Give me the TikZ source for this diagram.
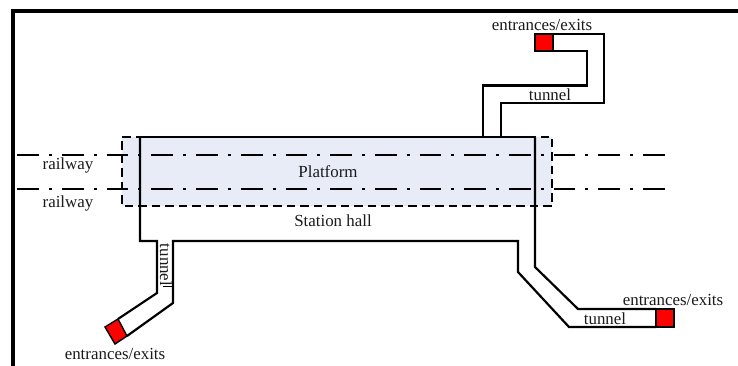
\documentclass[tikz,border=0pt]{standalone}
\usepackage{fontspec}
\setmainfont{Liberation Serif}
\definecolor{zoneblue}{HTML}{E7ECF7}
\definecolor{exitred}{HTML}{FF0000}
\definecolor{inkgrey}{HTML}{1A1A1A}
\tikzset{
  frameline/.style={line width=4.6pt,black},
  wall/.style={line width=2.2pt,black,line join=miter},
  zone/.style={fill=zoneblue,draw=none},
  zoneedge/.style={line width=1.2pt,black,dash pattern=on 8.5pt off 5pt},
  rail/.style={line width=2.5pt,black,dash pattern=on 21.7pt off 10pt on 3pt off 10pt},
  exitbox/.style={fill=exitred,draw=black,line width=1.4pt,line join=miter},
  label/.style={font=\fontsize{16.9}{18}\selectfont,text=inkgrey,inner sep=0pt},
}
\begin{document}
\begin{tikzpicture}[x=1pt,y=-1pt]
\useasboundingbox (0,0) rectangle (738,366);
% underlay zone
\fill[zone] (122,137) rectangle (552,206);
\draw[zoneedge] (122,137) -- (552,137) -- (552,206) -- (122,206) -- cycle;
% railways
\coordinate (r1a) at (17.3,155); \coordinate (r1b) at (665,155);
\coordinate (r2a) at (17.3,189); \coordinate (r2b) at (665,189);
\draw[rail] (r1a) -- (r1b);
\draw[rail] (r2a) -- (r2b);
% frame
\draw[frameline] (13,366) -- (13,11) -- (738,11);
% station outline
\draw[wall] (140,137) -- (535,137);
\draw[wall] (535,137) -- (535,267) -- (578,309) -- (656,309);
\draw[wall] (140,137) -- (140,241) -- (157,241) -- (157,293) -- (118,319);
\draw[wall] (127,336) -- (173,303) -- (173,241) -- (518,241) -- (518,272) -- (569,327) -- (656,327);
% upper tunnel
\draw[wall] (483,137) -- (483,85.5) -- (587,85.5) -- (587,51) -- (553,51);
\draw[wall] (501,137) -- (501,103) -- (604,103) -- (604,34) -- (553,34);
% exits
\draw[exitbox] (535,34) rectangle (553,51);
\draw[exitbox] (656,309) rectangle (674,327);
\draw[exitbox] (105,327) -- (118,319) -- (127,336) -- (115,344) -- cycle;
% thin tick under rotated label
\draw[line width=0.5pt] (163,286.5) -- (173,286.5);
% labels
\node[label] (lr1) at (68,165) {railway};
\node[label] (lr2) at (68,203) {railway};
\node[label] (lp) at (328,172) {Platform};
\node[label] (ls) at (333,221) {Station hall};
\node[label] (le1) at (542,25) {entrances/exits};
\node[label] (le2) at (673,300) {entrances/exits};
\node[label] (le3) at (115,354) {entrances/exits};
\node[label] (lt1) at (550,95) {tunnel};
\node[label] (lt2) at (605,319) {tunnel};
\node[label,rotate=-90] (lt3) at (166,265) {tunnel};
\end{tikzpicture}
\end{document}
